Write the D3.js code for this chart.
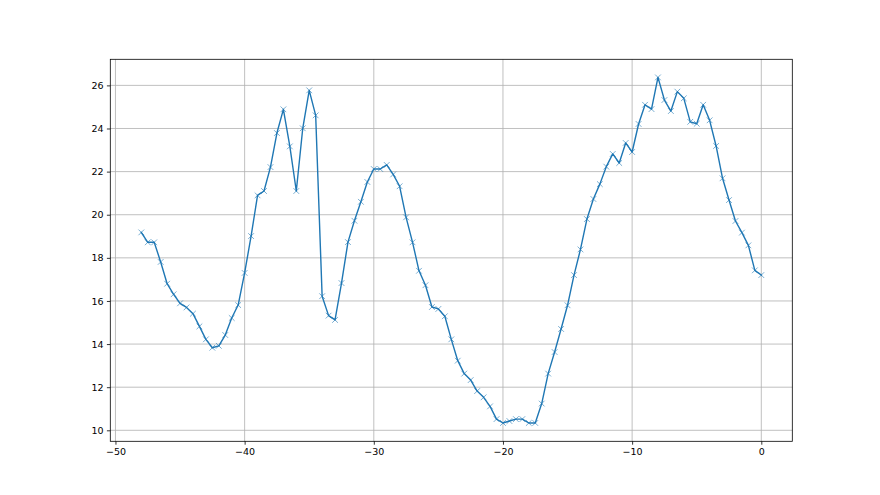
<!DOCTYPE html>
<html><head><meta charset="utf-8">
<script src="https://cdn.jsdelivr.net/npm/d3@7"></script>
<style>body{margin:0;background:#fff}svg{display:block}</style>
</head><body><svg id="c" width="880" height="495"></svg>
<script>
const xValues = d3.range(97).map(i => -48 + i * 0.5);
const yValues = [
19.18,18.72,18.72,17.81,16.80,16.31,15.89,15.70,15.41,14.82,
14.22,13.83,13.92,14.42,15.21,15.81,17.30,19.01,20.90,21.10,
22.21,23.79,24.89,23.17,21.10,24.01,25.77,24.61,16.22,15.32,
15.12,16.83,18.73,19.72,20.60,21.52,22.12,22.12,22.31,21.87,
21.32,19.88,18.72,17.40,16.73,15.72,15.63,15.29,14.22,13.23,
12.63,12.33,11.82,11.53,11.11,10.52,10.34,10.43,10.52,10.52,
10.34,10.34,11.24,12.63,13.63,14.70,15.80,17.20,18.39,19.80,
20.73,21.42,22.23,22.82,22.40,23.33,22.91,24.21,25.10,24.90,
26.37,25.32,24.81,25.71,25.40,24.31,24.22,25.10,24.38,23.19,
21.69,20.68,19.71,19.17,18.58,17.42,17.20];
const xTicks = [-50,-40,-30,-20,-10,0];
const yTicks = [10,12,14,16,18,20,22,24,26];

const svg = d3.select("#c");
const L = 110.3, R = 792.3, T = 59.3, B = 441.3;
const x = d3.scaleLinear().domain([-50.4, 2.4]).range([L, R]);
const y = d3.scaleLinear().domain([9.49, 27.21]).range([B, T]);

const g = svg.append("g");
// grid
g.selectAll(".gx").data(xTicks).join("line")
  .attr("x1", d => x(d)).attr("x2", d => x(d)).attr("y1", T).attr("y2", B)
  .attr("stroke", "#b0b0b0").attr("stroke-width", 0.8);
g.selectAll(".gy").data(yTicks).join("line")
  .attr("y1", d => y(d)).attr("y2", d => y(d)).attr("x1", L).attr("x2", R)
  .attr("stroke", "#b0b0b0").attr("stroke-width", 0.8);

// line
const line = d3.line().x((d, i) => x(xValues[i])).y(d => y(d));
g.append("path").datum(yValues).attr("d", line)
  .attr("fill", "none").attr("stroke", "#1f77b4").attr("stroke-width", 1.4)
  .attr("stroke-linejoin", "round").attr("stroke-linecap", "square");

// markers x
const s = 2.85;
const mk = g.append("g").attr("stroke", "#1f77b4").attr("stroke-width", 0.6);
yValues.forEach((v, i) => {
  const cx = x(xValues[i]), cy = y(v);
  mk.append("path").attr("d", `M${cx-s},${cy-s}L${cx+s},${cy+s}M${cx-s},${cy+s}L${cx+s},${cy-s}`);
});

// axes
const fmt = d3.format("d");
const ax = svg.append("g").attr("transform", `translate(0,${B})`)
  .call(d3.axisBottom(x).tickValues(xTicks).tickFormat(fmt).tickSize(3.4).tickPadding(3.4));
const ay = svg.append("g").attr("transform", `translate(${L},0)`)
  .call(d3.axisLeft(y).tickValues(yTicks).tickFormat(fmt).tickSize(3.4).tickPadding(3.4));
[ax, ay].forEach(a => {
  a.select(".domain").remove();
  a.selectAll("line").attr("stroke", "#000").attr("stroke-width", 0.8);
  a.selectAll("text").attr("font-family", "DejaVu Sans").attr("font-size", 9.5).attr("fill", "#000");
});
// spines
svg.append("rect").attr("x", L).attr("y", T).attr("width", R - L).attr("height", B - T)
  .attr("fill", "none").attr("stroke", "#000").attr("stroke-width", 0.8);
</script></body></html>
